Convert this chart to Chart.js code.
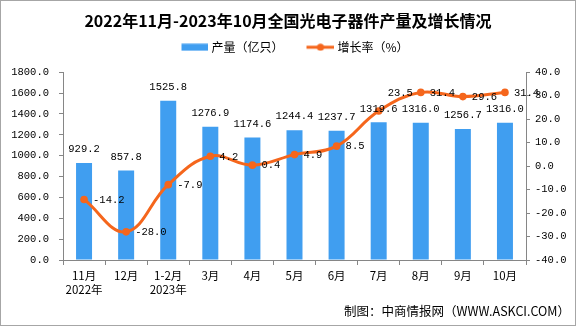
<!DOCTYPE html>
<html lang="zh">
<head>
<meta charset="UTF-8">
<title>全国光电子器件产量及增长情况</title>
<script src="https://cdn.jsdelivr.net/npm/chart.js"></script>
<style>
  body { margin: 0; background: #fff; }
  #wrap {
    width: 576px;
    height: 326px;
    box-sizing: border-box;
    border: 1px solid #a6a6a6;
    position: relative;
  }
</style>
</head>
<body>
<div id="wrap"><canvas id="chart"></canvas></div>

<script>
const categories = [['11月', '2022年'], '12月', ['1-2月', '2023年'], '3月', '4月', '5月', '6月', '7月', '8月', '9月', '10月'];
const output = [929.2, 857.8, 1525.8, 1276.9, 1174.6, 1244.4, 1237.7, 1319.6, 1316.0, 1256.7, 1316.0];
const growth = [-14.2, -28.0, -7.9, 4.2, 0.4, 4.9, 8.5, 23.5, 31.4, 29.6, 31.4];
const leftTicks = [0, 200, 400, 600, 800, 1000, 1200, 1400, 1600, 1800];
const rightTicks = [-40, -30, -20, -10, 0, 10, 20, 30, 40];

const BLUE = '#409ef0';
const ORANGE = '#f5661c';
const AXIS = '#868686';
const numFont = '"Liberation Mono", "DejaVu Sans Mono", monospace';
const cjkFont = '"Noto Sans CJK SC", "Noto Sans", sans-serif';

// legend symbols: 44px wide image, symbol sits at its right end
function barSymbol() {
  const c = document.createElement('canvas');
  c.width = 44; c.height = 8;
  const g = c.getContext('2d');
  g.fillStyle = BLUE;
  g.fillRect(17, 0.5, 27, 7);
  return c;
}
function lineSymbol() {
  const c = document.createElement('canvas');
  c.width = 44; c.height = 8;
  const g = c.getContext('2d');
  g.strokeStyle = ORANGE;
  g.lineWidth = 3;
  g.beginPath(); g.moveTo(16, 4); g.lineTo(44, 4); g.stroke();
  g.fillStyle = ORANGE;
  g.beginPath(); g.arc(30, 4, 3.6, 0, Math.PI * 2); g.fill();
  return c;
}

// a bit more room under the legend
const legendGap = {
  id: 'legendGap',
  beforeLayout(chart) {
    const lg = chart.legend;
    if (lg && !lg._gapPatched) {
      const fit = lg.fit;
      lg.fit = function () { fit.call(this); this.height += 9; };
      lg._gapPatched = true;
    }
  }
};

const valueLabels = {
  id: 'valueLabels',
  afterDatasetsDraw(chart) {
    const ctx = chart.ctx;
    ctx.save();
    ctx.font = '10.5px ' + numFont;
    ctx.fillStyle = '#000';
    const bars = chart.getDatasetMeta(0).data;
    ctx.textAlign = 'center';
    ctx.textBaseline = 'middle';
    bars.forEach((el, i) => {
      ctx.fillText(output[i].toFixed(1), el.x, el.y - 13.5);
    });
    const pts = chart.getDatasetMeta(1).data;
    ctx.textAlign = 'left';
    pts.forEach((el, i) => {
      // the 7月 label is lifted so it does not sit on the bar label
      const dy = i === 7 ? -18 : 0.5;
      ctx.fillText(growth[i].toFixed(1), el.x + 9, el.y + dy);
    });
    ctx.restore();
  }
};

new Chart(document.getElementById('chart'), {
  type: 'bar',
  data: {
    labels: categories,
    datasets: [
      {
        type: 'bar',
        label: '产量（亿只）',
        data: output,
        backgroundColor: BLUE,
        barPercentage: 0.38,
        categoryPercentage: 1,
        yAxisID: 'y',
        order: 2
      },
      {
        type: 'line',
        label: '增长率（%）',
        data: growth,
        borderColor: ORANGE,
        backgroundColor: ORANGE,
        borderWidth: 3,
        pointRadius: 3.8,
        pointBackgroundColor: ORANGE,
        pointBorderWidth: 0,
        tension: 0.4,
        yAxisID: 'y1',
        order: 1
      }
    ]
  },
  options: {
    responsive: true,
    maintainAspectRatio: false,
    animation: false,
    layout: { padding: { left: 5, right: 5, top: 0, bottom: 0 } },
    plugins: {
      tooltip: { enabled: false },
      title: {
        display: true,
        text: '2022年11月-2023年10月全国光电子器件产量及增长情况',
        color: '#000',
        font: { family: cjkFont, size: 16, weight: 'bold', lineHeight: 1.2 },
        padding: { top: 10, bottom: 1 }
      },
      legend: {
        display: true,
        labels: {
          usePointStyle: true,
          pointStyleWidth: 38,
          padding: 10,
          color: '#000',
          font: { family: cjkFont, size: 12 },
          generateLabels() {
            return [
              { text: '产量（亿只）', pointStyle: barSymbol(), datasetIndex: 0, hidden: false, lineWidth: 0, fontColor: '#000' },
              { text: '增长率（%）', pointStyle: lineSymbol(), datasetIndex: 1, hidden: false, lineWidth: 0, fontColor: '#000' }
            ];
          }
        }
      },
      subtitle: {
        display: true,
        position: 'bottom',
        align: 'end',
        text: '制图：中商情报网（WWW.ASKCI.COM）',
        color: '#000',
        font: { family: cjkFont, size: 12.5, lineHeight: 1.2 },
        padding: { top: 0, bottom: 6 }
      }
    },
    scales: {
      x: {
        grid: { offset: true, drawOnChartArea: false, tickLength: 5, color: AXIS },
        border: { color: AXIS },
        ticks: { color: '#000', padding: 4, maxRotation: 0, autoSkip: false, font: { family: cjkFont, size: 11.5, lineHeight: 1.2 } },
        afterFit(s) { s.height = 44; }
      },
      y: {
        position: 'left',
        min: 0,
        max: 1800,
        afterBuildTicks(s) { s.ticks = leftTicks.map(v => ({ value: v })); },
        grid: { drawOnChartArea: false, tickLength: 4, color: AXIS },
        border: { color: AXIS },
        ticks: { color: '#000', padding: 10, font: { family: numFont, size: 10.5 }, callback: v => v.toFixed(1) },
        afterFit(s) { s.width = 57; }
      },
      y1: {
        position: 'right',
        min: -40,
        max: 40,
        afterBuildTicks(s) { s.ticks = rightTicks.map(v => ({ value: v })); },
        grid: { drawOnChartArea: false, tickLength: 4, color: AXIS },
        border: { color: AXIS },
        ticks: { color: '#000', padding: 5, font: { family: numFont, size: 10.5 }, callback: v => v.toFixed(1) },
        afterFit(s) { s.width = 44; }
      }
    }
  },
  plugins: [legendGap, valueLabels]
});
</script>
</body>
</html>
